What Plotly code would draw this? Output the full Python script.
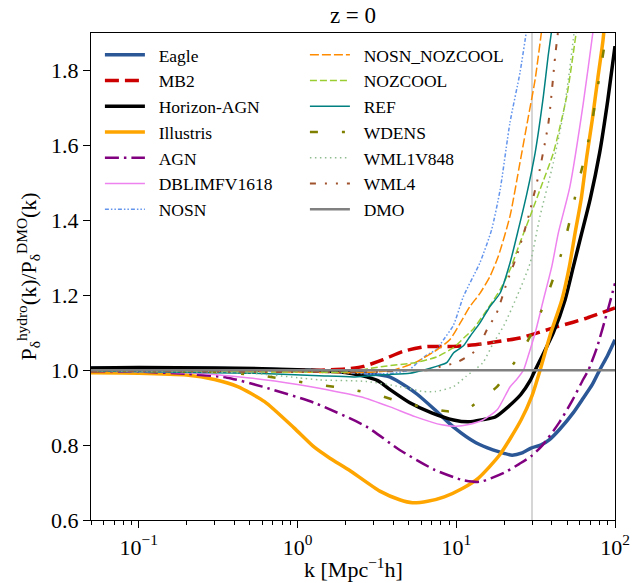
import plotly.graph_objects as go
import math

# ---------------- data ----------------
k_eagle = [0.05, 0.1, 0.2, 0.5, 1.0, 2.0, 2.7, 3.8, 4.9, 5.7, 7.3, 9.8, 13.3, 17, 20, 22.5, 26, 29.6, 34, 38.5, 45, 54.5, 63, 72, 80, 90, 100]
r_eagle = [1.005, 1.005, 1.005, 1.003, 1.0, 0.997, 0.992, 0.982, 0.955, 0.935, 0.895, 0.845, 0.806, 0.787, 0.778, 0.773, 0.779, 0.792, 0.80, 0.814, 0.843, 0.886, 0.925, 0.962, 1.0, 1.04, 1.081]

k_mb2 = [0.05, 0.2, 0.5, 1.0, 1.4, 2.0, 2.6, 3.46, 4.6, 6.5, 9.6, 14.7, 20, 25.2, 32.8, 40.9, 54.5, 66.4, 100]
r_mb2 = [1.0, 1.0, 1.0, 1.0, 1.0, 1.003, 1.01, 1.028, 1.05, 1.063, 1.063, 1.07, 1.079, 1.086, 1.10, 1.113, 1.128, 1.139, 1.166]

k_hagn = [0.05, 0.1, 0.3, 0.6, 1.0, 1.5, 2.0, 2.5, 3.2, 3.83, 5.1, 7.0, 9.6, 12, 14.7, 17.6, 21.6, 25.5, 29.2, 31, 35, 40.9, 48.5, 54.7, 61.8, 69.7, 80, 90, 100]
r_hagn = [1.006, 1.007, 1.006, 1.004, 1.001, 0.998, 0.994, 0.986, 0.972, 0.948, 0.913, 0.886, 0.867, 0.862, 0.868, 0.875, 0.905, 0.935, 0.972, 0.995, 1.04, 1.10, 1.188, 1.277, 1.367, 1.456, 1.58, 1.72, 1.865]

k_illu = [0.05, 0.1, 0.2, 0.3, 0.42, 0.62, 0.95, 1.27, 1.6, 2.1, 3.3, 4.4, 5.3, 6.6, 8.4, 11, 13.8, 18.8, 25.6, 29.9, 33.5, 39.4, 46.3, 51.6, 56.1, 61.2, 66.4, 72, 78, 84, 87]
r_illu = [0.993, 0.992, 0.987, 0.975, 0.956, 0.916, 0.846, 0.795, 0.765, 0.734, 0.677, 0.654, 0.646, 0.65, 0.662, 0.685, 0.712, 0.774, 0.867, 0.93, 0.996, 1.099, 1.188, 1.277, 1.367, 1.456, 1.57, 1.67, 1.78, 1.88, 1.95]

k_agn = [0.05, 0.1, 0.2, 0.36, 0.6, 1.27, 2.7, 4.4, 7.3, 10.9, 14.1, 20, 25, 29.6, 35, 44.5, 54, 63, 68, 76.9, 90, 100]
r_agn = [0.997, 0.996, 0.99, 0.98, 0.956, 0.913, 0.85, 0.787, 0.734, 0.707, 0.702, 0.726, 0.75, 0.77, 0.80, 0.86, 0.92, 0.975, 1.0, 1.06, 1.16, 1.232]

k_dblimf = [0.05, 0.2, 0.5, 1.0, 1.37, 2.5, 3.83, 5.5, 8.1, 10, 12, 14.7, 18.1, 21.8, 24, 26.5, 28, 31.4, 35.4, 40, 44, 52, 63, 73, 76]
r_dblimf = [0.998, 0.993, 0.979, 0.962, 0.952, 0.929, 0.902, 0.876, 0.854, 0.85, 0.855, 0.867, 0.894, 0.955, 0.975, 1.0, 1.03, 1.099, 1.188, 1.277, 1.367, 1.49, 1.71, 1.91, 1.97]

k_nosn = [0.05, 0.5, 1.0, 2.0, 3.0, 4.0, 5.0, 5.7, 6.5, 7.5, 8.3, 9.6, 11.1, 14.1, 16.7, 18.9, 21.8, 25.2, 27.8, 29]
r_nosn = [0.998, 0.997, 0.995, 0.993, 0.99, 0.992, 1.0, 1.02, 1.04, 1.055, 1.081, 1.12, 1.197, 1.287, 1.375, 1.482, 1.661, 1.794, 1.91, 1.96]

k_nosn_nozcool = [0.05, 1.0, 2.0, 3.0, 4.0, 5.5, 7.6, 9.1, 10.6, 12.2, 14.1, 16.3, 18.4, 21.8, 25.2, 28.5, 31.4, 34.6, 36]
r_nosn_nozcool = [0.998, 0.995, 0.993, 0.995, 1.0, 1.02, 1.055, 1.081, 1.126, 1.17, 1.205, 1.25, 1.304, 1.411, 1.554, 1.678, 1.776, 1.91, 1.96]

k_nozcool = [0.05, 1.0, 2.0, 3.46, 5.5, 7.5, 9.6, 11.1, 12.8, 15.6, 18.9, 21.8, 25.2, 29.2, 33.7, 40.9, 49.7, 57.4, 60]
r_nozcool = [0.998, 0.995, 0.995, 1.01, 1.02, 1.035, 1.06, 1.085, 1.11, 1.161, 1.215, 1.268, 1.34, 1.411, 1.482, 1.58, 1.732, 1.91, 1.96]

k_ref = [0.05, 0.5, 1.37, 2.3, 3.46, 5.1, 6.2, 7.5, 8.7, 9.6, 11.1, 12.2, 14.1, 16.3, 18.9, 21.8, 24.6, 27.8, 31.4, 35.4, 37.9, 40, 42]
r_ref = [0.998, 0.992, 0.985, 0.982, 0.988, 0.992, 1.0, 1.01, 1.02, 1.046, 1.065, 1.09, 1.126, 1.17, 1.206, 1.286, 1.375, 1.47, 1.58, 1.732, 1.838, 1.91, 1.97]

k_wdens = [0.05, 0.3, 0.6, 1.0, 1.37, 2.08, 3.2, 4.6, 6.5, 8.8, 11.5, 14.7, 18.1, 20.8, 25.2, 30.3, 35.4, 40.9, 46.9, 52.1, 57.4, 63.2, 69.7, 80.5, 89, 92]
r_wdens = [0.998, 0.995, 0.985, 0.97, 0.961, 0.95, 0.934, 0.913, 0.90, 0.89, 0.894, 0.926, 0.956, 0.993, 1.041, 1.104, 1.172, 1.246, 1.324, 1.402, 1.482, 1.554, 1.634, 1.794, 1.91, 1.96]

k_wml1v848 = [0.05, 0.5, 1.0, 1.37, 2.7, 4.4, 6.2, 7.4, 9.6, 11.5, 14.7, 17, 20, 24.3, 29.2, 33.7, 40.9, 47.4, 51, 54.5, 57]
r_wml1v848 = [0.998, 0.992, 0.98, 0.974, 0.97, 0.956, 0.943, 0.943, 0.956, 0.983, 1.02, 1.07, 1.12, 1.2, 1.286, 1.411, 1.554, 1.687, 1.78, 1.88, 1.95]

k_wml4 = [0.05, 1.0, 3.0, 5.0, 6.5, 8.0, 10, 13.5, 15.6, 18, 20.8, 24, 27.8, 32.9, 38.1, 42, 44, 46]
r_wml4 = [0.998, 0.995, 0.995, 1.0, 1.0, 1.01, 1.02, 1.055, 1.108, 1.153, 1.233, 1.304, 1.393, 1.518, 1.661, 1.839, 1.91, 1.96]

k_dmo = [0.05, 100]
r_dmo = [1.0, 1.0]

K_LINE = 30  # vertical reference line

x_tick_vals = [0.1, 1, 10, 100]
x_tick_text = ["10<sup>−1</sup>", "10<sup>0</sup>", "10<sup>1</sup>", "10<sup>2</sup>"]
y_tick_vals = [0.6, 0.8, 1.0, 1.2, 1.4, 1.6, 1.8]

# ---------------- styling ----------------
series = [
    # name, k, r, color, width, dash, legend rank (row-major for 2 columns)
    ("Eagle", k_eagle, r_eagle, "#2b5797", 3.5, "solid", 1),
    ("MB2", k_mb2, r_mb2, "#cc0000", 3.5, "14px,6px", 3),
    ("Horizon-AGN", k_hagn, r_hagn, "#000000", 3.5, "solid", 5),
    ("Illustris", k_illu, r_illu, "#ffa500", 3.5, "solid", 7),
    ("AGN", k_agn, r_agn, "#800080", 2.5, "14px,5px,2.5px,5px", 9),
    ("DBLIMFV1618", k_dblimf, r_dblimf, "#ee82ee", 1.5, "solid", 11),
    ("NOSN", k_nosn, r_nosn, "#6495ed", 1.5, "4px,2px,1.5px,2px,1.5px,2px", 13),
    ("NOSN_NOZCOOL", k_nosn_nozcool, r_nosn_nozcool, "#ff8c00", 1.5, "9px,3px", 2),
    ("NOZCOOL", k_nozcool, r_nozcool, "#9acd32", 1.5, "7px,3px", 4),
    ("REF", k_ref, r_ref, "#008080", 1.5, "solid", 6),
    ("WDENS", k_wdens, r_wdens, "#808000", 2.5, "8px,24px,3px,24px", 8),
    ("WML1V848", k_wml1v848, r_wml1v848, "#8fbc8f", 1.5, "1.5px,3.5px", 10),
    ("WML4", k_wml4, r_wml4, "#a0522d", 2.0, "6px,9px,2px,9px,2px,9px", 12),
    ("DMO", k_dmo, r_dmo, "#808080", 2.5, "solid", 14),
]

FONT = "Liberation Serif, Times New Roman, Times, serif"
PAD = "\u00a0\u00a0"  # gap between legend swatch and label

fig = go.Figure()
for name, kk, rr, col, w, dash, rank in series:
    fig.add_trace(go.Scatter(
        x=kk, y=rr, mode="lines", name=PAD + name,
        line=dict(color=col, width=w, dash=dash, shape="spline", smoothing=0.6),
        legendrank=rank, showlegend=True,
    ))

fig.add_shape(type="line", xref="x", yref="paper", x0=K_LINE, x1=K_LINE, y0=0, y1=1,
              line=dict(color="#c8c8c8", width=1.5), layer="below")

# axis titles as annotations for exact placement
fig.add_annotation(text="k [Mpc<sup>−1</sup>h]", xref="paper", yref="paper",
                   x=0.5, y=-0.098, xanchor="center", yanchor="middle",
                   showarrow=False, font=dict(family=FONT, size=22, color="black"))
fig.add_annotation(text="P<sub>δ</sub><sup>hydro</sup>(k)/P<sub>δ</sub><sup>DMO</sup>(k)",
                   xref="paper", yref="paper", x=-0.12, y=0.5, textangle=-90,
                   xanchor="center", yanchor="middle", showarrow=False,
                   font=dict(family=FONT, size=22, color="black"))

fig.update_layout(
    width=642, height=583,
    margin=dict(l=91, r=27, t=33, b=63, autoexpand=False),
    paper_bgcolor="white", plot_bgcolor="white",
    font=dict(family=FONT, size=22, color="black"),
    title=dict(text="z = 0", x=0.5, xref="paper", xanchor="center",
               y=1 - 15 / 583, yref="container", yanchor="middle",
               font=dict(family=FONT, size=23, color="black")),
    showlegend=True,
    legend=dict(
        orientation="h", x=0.017, y=0.992, xanchor="left", yanchor="top",
        entrywidth=150, entrywidthmode="pixels", itemwidth=40,
        bgcolor="rgba(0,0,0,0)", borderwidth=0,
        font=dict(family=FONT, size=17.5, color="black"),
        traceorder="normal",
    ),
)

fig.update_xaxes(
    type="log", range=[math.log10(0.05), 2], automargin=False,
    tickmode="array", tickvals=x_tick_vals, ticktext=x_tick_text,
    ticks="outside", ticklen=7, tickwidth=1, tickcolor="black",
    minor=dict(ticks="outside", ticklen=4, tickwidth=1, tickcolor="black",
               tickmode="array",
               tickvals=[m * 10 ** e for e in range(-2, 2) for m in range(2, 10) if 0.05 <= m * 10 ** e <= 100],
               showgrid=False),
    showline=True, linecolor="black", linewidth=1.2, mirror=True,
    showgrid=False, zeroline=False,
    tickfont=dict(family=FONT, size=22),
)
fig.update_yaxes(
    range=[0.6, 1.9], automargin=False,
    tickmode="array", tickvals=y_tick_vals, tickformat=".1f",
    ticks="outside", ticklen=7, tickwidth=1, tickcolor="black",
    showline=True, linecolor="black", linewidth=1.2, mirror=True,
    showgrid=False, zeroline=False,
    tickfont=dict(family=FONT, size=22),
)

fig.write_html(
    "out.html",
    config={"displayModeBar": False},
    post_script="document.body.style.margin='0px';document.body.style.padding='0px';document.body.style.overflow='hidden';",
)
